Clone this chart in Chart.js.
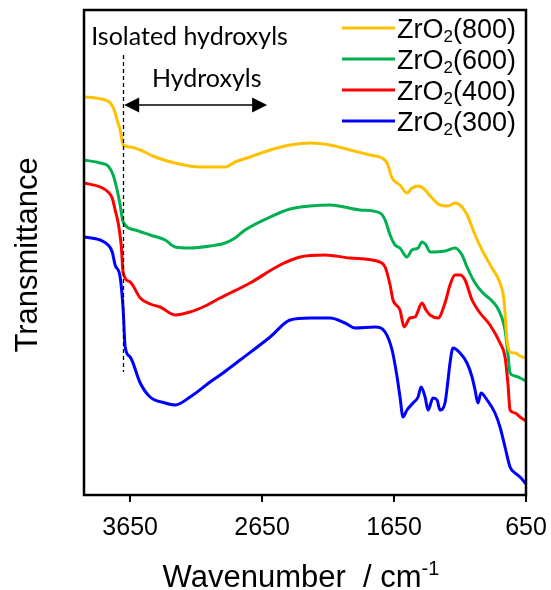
<!DOCTYPE html>
<html>
<head>
<meta charset="utf-8">
<title>ZrO2 IR spectra</title>
<script src="https://cdn.jsdelivr.net/npm/chart.js@4.4.1/dist/chart.umd.min.js"></script>
<style>
  html, body { margin: 0; padding: 0; background: #fff; }
  canvas { display: block; }
</style>
</head>
<body>
<canvas id="irChart" width="551" height="590"></canvas>
<script>
// Wavenumber (cm-1) and transmittance (arb. units, offset per sample)
const wn800 = [4000, 3915, 3840, 3800, 3771, 3749, 3726, 3703, 3650, 3574, 3461, 3309, 3120, 2930, 2855, 2741,
    2589, 2438, 2286, 2135, 1983, 1832, 1741, 1703, 1665, 1605, 1552, 1514, 1468, 1423, 1362, 1302,
    1241, 1188, 1135, 1089, 1036, 983, 908, 847, 817, 794, 771, 733, 695, 650];
const t800 = [398, 397, 395, 392, 385, 375, 365, 350, 348, 345, 338, 332, 328, 328, 333, 338,
    345, 350, 352, 350, 345, 340, 337, 332, 317, 310, 302, 307, 309, 306, 297, 290,
    289, 292, 288, 278, 260, 245, 227, 212, 195, 155, 143, 142, 139, 137];

const wn600 = [4000, 3877, 3817, 3779, 3749, 3726, 3703, 3612, 3499, 3385, 3309, 3196, 3044, 2930, 2855, 2779,
    2589, 2438, 2286, 2135, 1908, 1756, 1718, 1680, 1642, 1605, 1552, 1514, 1468, 1438, 1408, 1377,
    1264, 1188, 1135, 1097, 1036, 976, 923, 870, 832, 809, 786, 771, 733, 695, 650];
const t600 = [335, 332, 329, 320, 305, 290, 273, 265, 260, 255, 248, 247, 249, 252, 257, 265,
    278, 286, 289, 290, 285, 282, 275, 260, 250, 247, 238, 245, 247, 253, 250, 243,
    244, 247, 240, 228, 212, 202, 196, 188, 177, 165, 140, 122, 119, 117, 114];

const wn400 = [4000, 3877, 3817, 3786, 3764, 3741, 3718, 3703, 3650, 3574, 3499, 3423, 3309, 3196, 3082, 2968,
    2741, 2514, 2362, 2173, 1983, 1756, 1718, 1680, 1658, 1605, 1574, 1529, 1491, 1438, 1408, 1377,
    1317, 1264, 1226, 1188, 1150, 1112, 1059, 998, 923, 847, 809, 786, 771, 733, 695, 650];
const t400 = [312, 308, 303, 297, 285, 272, 250, 222, 213, 197, 191, 188, 180, 183, 189, 197,
    212, 230, 238, 240, 237, 233, 228, 210, 195, 185, 168, 177, 178, 192, 185, 180,
    177, 192, 210, 220, 220, 215, 195, 182, 170, 152, 138, 110, 85, 82, 78, 74];

const wn300 = [4000, 3877, 3817, 3786, 3764, 3726, 3703, 3688, 3650, 3574, 3499, 3385, 3309, 3196, 3044, 2968,
    2817, 2589, 2438, 2286, 2135, 2021, 1945, 1794, 1718, 1665, 1627, 1605, 1582, 1552, 1506, 1468,
    1445, 1415, 1392, 1355, 1324, 1302, 1264, 1241, 1226, 1203, 1150, 1097, 1059, 1036, 1014, 991,
    945, 885, 847, 809, 771, 733, 695, 650];
const t300 = [258, 255, 250, 243, 230, 218, 185, 148, 138, 112, 98, 92, 90, 98, 113, 120,
    135, 158, 175, 177, 177, 172, 167, 168, 163, 145, 118, 98, 78, 85, 92, 98,
    108, 98, 85, 97, 95, 85, 92, 115, 132, 147, 142, 132, 118, 105, 92, 102,
    95, 82, 68, 48, 28, 22, 18, 11];

const temps = ['800', '600', '400', '300'];
const colors = ['#FFC000', '#00B050', '#FF0000', '#0000FF'];
const xTicks = [3650, 2650, 1650, 650];

const toPoints = (xs, ys) => xs.map((v, i) => ({ x: v, y: ys[i] }));
const series = [[wn800, t800], [wn600, t600], [wn400, t400], [wn300, t300]];

const SANS = '"Liberation Sans", Arial, sans-serif';
const CALIBRI = 'Lato, "Open Sans", sans-serif';

// frame, annotations, legend and axis titles
const overlay = {
    id: 'overlay',
    afterDraw(chart) {
        const { ctx, chartArea: a, scales: { x, y } } = chart;
        ctx.save();

        // plot frame
        ctx.strokeStyle = '#000';
        ctx.lineWidth = 2.5;
        ctx.strokeRect(a.left, a.top, a.right - a.left, a.bottom - a.top);

        // isolated hydroxyl marker
        const xd = Math.round(x.getPixelForValue(3703)) + 0.5;
        ctx.lineWidth = 1.3;
        ctx.setLineDash([4, 3]);
        ctx.beginPath();
        ctx.moveTo(xd, y.getPixelForValue(440));
        ctx.lineTo(xd, y.getPixelForValue(123));
        ctx.stroke();
        ctx.setLineDash([]);

        // double arrow for the hydroxyl band
        const ay = y.getPixelForValue(390);
        const ax0 = x.getPixelForValue(3703) + 1, ax1 = x.getPixelForValue(2612);
        ctx.lineWidth = 1.5;
        ctx.beginPath();
        ctx.moveTo(ax0 + 12, ay);
        ctx.lineTo(ax1 - 12, ay);
        ctx.stroke();
        ctx.fillStyle = '#000';
        ctx.beginPath();
        ctx.moveTo(ax0, ay); ctx.lineTo(ax0 + 15, ay - 7.5); ctx.lineTo(ax0 + 15, ay + 7.5);
        ctx.closePath(); ctx.fill();
        ctx.beginPath();
        ctx.moveTo(ax1, ay); ctx.lineTo(ax1 - 15, ay - 7.5); ctx.lineTo(ax1 - 15, ay + 7.5);
        ctx.closePath(); ctx.fill();

        ctx.font = '25px ' + CALIBRI;
        ctx.textAlign = 'center';
        ctx.textBaseline = 'alphabetic';
        ctx.fillText('Isolated hydroxyls', x.getPixelForValue(3200), y.getPixelForValue(450));
        ctx.fillText('Hydroxyls', x.getPixelForValue(3070), y.getPixelForValue(408));

        // legend
        ctx.textAlign = 'left';
        temps.forEach((t, i) => {
            const ly = 28 + i * 31;
            ctx.strokeStyle = colors[i];
            ctx.lineWidth = 3;
            ctx.beginPath();
            ctx.moveTo(342, ly);
            ctx.lineTo(395, ly);
            ctx.stroke();
            let tx = 397;
            const base = ly + 9.5;
            ctx.font = '27px ' + SANS;
            ctx.fillText('ZrO', tx, base);
            tx += ctx.measureText('ZrO').width;
            ctx.font = '17px ' + SANS;
            ctx.fillText('2', tx, base + 4);
            tx += ctx.measureText('2').width;
            ctx.font = '27px ' + SANS;
            ctx.fillText('(' + t + ')', tx, base);
        });

        // x title with superscript
        ctx.font = '31px ' + SANS;
        const main = 'Wavenumber  / cm';
        const wMain = ctx.measureText(main).width;
        ctx.font = '20px ' + SANS;
        const wSup = ctx.measureText('-1').width;
        const sx = 301 - (wMain + wSup) / 2;
        ctx.font = '31px ' + SANS;
        ctx.fillText(main, sx, 587);
        ctx.font = '20px ' + SANS;
        ctx.fillText('-1', sx + wMain, 575);

        // y title
        ctx.translate(37, 255);
        ctx.rotate(-Math.PI / 2);
        ctx.textAlign = 'center';
        ctx.font = '31px ' + SANS;
        ctx.fillText('Transmittance', 0, 0);

        ctx.restore();
    }
};

new Chart(document.getElementById('irChart'), {
    type: 'line',
    data: {
        datasets: series.map((s, i) => ({
            label: 'ZrO2(' + temps[i] + ')',
            data: toPoints(s[0], s[1]),
            borderColor: colors[i],
            backgroundColor: colors[i],
            borderWidth: 3,
            pointRadius: 0,
            cubicInterpolationMode: 'monotone',
            fill: false
        }))
    },
    options: {
        responsive: false,
        animation: false,
        layout: {
            padding: { left: 84, right: 25, top: 10, bottom: 0 }
        },
        plugins: {
            legend: { display: false },
            tooltip: { enabled: false }
        },
        scales: {
            x: {
                type: 'linear',
                reverse: true,
                min: 650,
                max: 4000,
                afterBuildTicks: axis => {
                    axis.ticks = xTicks.map(v => ({ value: v }));
                },
                afterFit: axis => {
                    axis.height = 95;
                    axis.paddingLeft = 0;
                    axis.paddingRight = 0;
                },
                grid: {
                    drawOnChartArea: false,
                    drawTicks: true,
                    tickLength: 7,
                    color: '#000',
                    lineWidth: 2
                },
                border: { display: false },
                ticks: {
                    color: '#000',
                    padding: 11,
                    maxRotation: 0,
                    autoSkip: false,
                    font: { family: SANS, size: 25 },
                    callback: v => String(v)
                }
            },
            y: {
                display: false,
                min: 0,
                max: 485
            }
        }
    },
    plugins: [overlay]
});
</script>
</body>
</html>
